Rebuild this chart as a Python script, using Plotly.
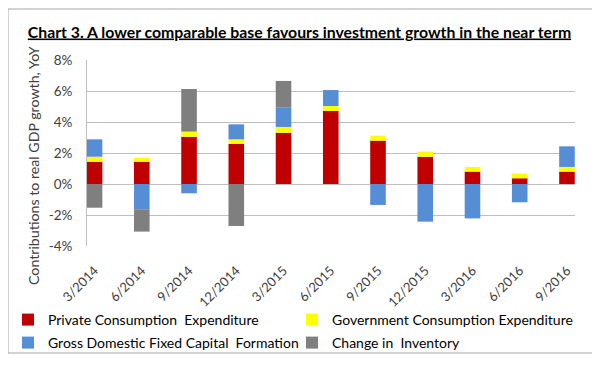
import plotly.graph_objects as go

categories = ["3/2014", "6/2014", "9/2014", "12/2014", "3/2015", "6/2015",
              "9/2015", "12/2015", "3/2016", "6/2016", "9/2016"]
private_consumption = [1.44, 1.44, 3.05, 2.58, 3.31, 4.71, 2.80, 1.76, 0.80, 0.37, 0.80]
government_consumption = [0.32, 0.26, 0.33, 0.30, 0.37, 0.32, 0.32, 0.33, 0.30, 0.30, 0.30]
fixed_capital = [1.12, -1.63, -0.60, 0.97, 1.27, 1.03, -1.35, -2.43, -2.22, -1.18, 1.33]
inventory = [-1.53, -1.44, 2.75, -2.71, 1.70, 0.0, 0.0, 0.0, 0.0, 0.0, 0.0]
y_ticks = [-4, -2, 0, 2, 4, 6, 8]
y_tick_labels = [f"{v}%" for v in y_ticks]

FONT = "Lato"
W, H = 592, 362          # page body has an 8px margin in the viewer
L, R, T, B = 79, 25, 52, 124
PW, PH = W - L - R, H - T - B

series = [
    ("Private Consumption  Expenditure", private_consumption, "#C00000", "legend"),
    ("Government Consumption Expenditure", government_consumption, "#FFFF00", "legend2"),
    ("Gross Domestic Fixed Capital  Formation", fixed_capital, "#558ED5", "legend3"),
    ("Change in  Inventory", inventory, "#7F7F7F", "legend4"),
]

fig = go.Figure()
for name, vals, col, leg in series:
    fig.add_trace(go.Bar(x=categories, y=vals, name=name, marker_color=col,
                         marker_line_width=0, width=0.33, legend=leg))

def leg(x_px, y_px):
    return dict(orientation="v", xanchor="left", yanchor="middle",
                x=x_px / W, y=1 - y_px / H,
                xref="container", yref="container",
                font=dict(family=FONT, size=14, color="#000000"),
                itemwidth=30, bgcolor="rgba(0,0,0,0)", borderwidth=0)

fig.update_layout(
    width=W, height=H,
    barmode="relative",
    paper_bgcolor="white", plot_bgcolor="white",
    margin=dict(l=L, r=R, t=T, b=B, autoexpand=False),
    font=dict(family=FONT, size=13, color="#404040"),
    title=dict(text="<b><u>Chart 3. A lower comparable base favours investment growth in the near term</u></b>",
               x=291.5 / W, xanchor="center", xref="container", y=1 - 24 / H, yanchor="middle",
               yref="container", font=dict(family=FONT, size=15.8, color="#000000")),
    showlegend=True,
    legend=leg(0, 312),
    legend2=leg(284, 312),
    legend3=leg(0, 335),
    legend4=leg(284, 335),
)
fig.update_xaxes(type="category", range=[-0.16, 10.17], tickangle=-45, automargin=False,
                 showgrid=False, showline=False,
                 ticks="outside", ticklen=11, tickcolor="rgba(0,0,0,0)",
                 tickfont=dict(family=FONT, size=13, color="#404040"))
fig.update_yaxes(range=[-4, 8], tickvals=y_ticks, ticktext=y_tick_labels, automargin=False,
                 showgrid=True, gridcolor="#BFBFBF", gridwidth=1,
                 zeroline=True, zerolinecolor="#BFBFBF", zerolinewidth=1,
                 showline=True, linecolor="#BFBFBF",
                 ticks="outside", ticklen=11, tickcolor="rgba(0,0,0,0)",
                 tickfont=dict(family=FONT, size=13.5, color="#404040"))

fig.add_annotation(text="Contributions to real GDP growth, YoY", textangle=-90,
                   xref="paper", yref="paper", x=(25 - L) / PW, y=(T + PH - 158) / PH,
                   showarrow=False, xanchor="center", yanchor="middle",
                   font=dict(family=FONT, size=14.2, color="#404040"))

fig.add_shape(type="rect", xref="paper", yref="paper",
              x0=(0 - L) / PW, x1=(585 - L) / PW,
              y0=(T + PH - 345) / PH, y1=(T + PH - 1) / PH,
              line=dict(color="#A6A6A6", width=1), fillcolor="rgba(0,0,0,0)", layer="below")

fig.write_html("out.html")
